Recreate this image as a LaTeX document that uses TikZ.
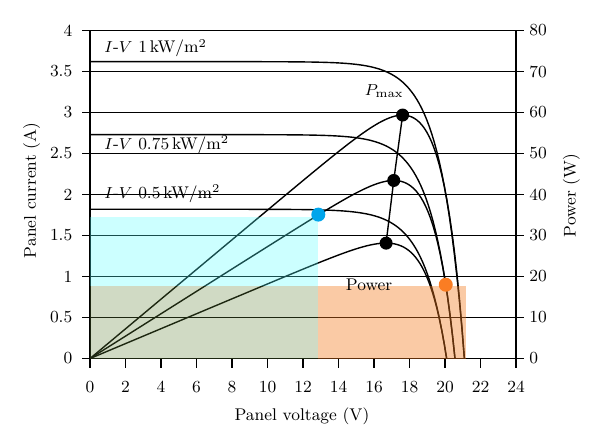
\documentclass[tikz,border=0pt]{standalone}
\usepackage{amsmath}
\usepackage{tikz}
\usetikzlibrary{arrows}
\definecolor{cyanbox}{RGB}{85,255,255}
\definecolor{olivebox}{RGB}{98,132,58}
\definecolor{orangebox}{RGB}{242,122,30}
\definecolor{bluedot}{RGB}{0,165,235}
\definecolor{orangedot}{RGB}{250,125,35}
\tikzstyle{gridline}=[line width=0.6bp]
\tikzstyle{curve}=[line width=0.7bp]
\tikzstyle{mppdot}=[circle,fill=black,minimum size=6.5bp,inner sep=0pt]
\tikzstyle{ticklabel}=[inner sep=0pt]
\tikzstyle{curvelabel}=[anchor=base west,inner sep=0pt]
\newcommand{\irr}[1]{$I$-$V$ #1\,kW/m$^2$}

\begin{document}
\begin{tikzpicture}[x=8.875bp,y=41bp,font=\fontsize{8.5}{10}\selectfont]
    \useasboundingbox (-5.07,-1.043) rectangle (28.73,4.372);
    % grid, ticks and both scales
    \foreach \n/\a/\w in {0/0/0, 1/0.5/10, 2/1/20, 3/1.5/30, 4/2/40, 5/2.5/50, 6/3/60, 7/3.5/70, 8/4/80} {
        \draw[gridline] (-0.45,\a) -- (24.45,\a);
        \node[ticklabel,anchor=east] (cur\n) at (-0.975,\a) {\a};
        \node[ticklabel,anchor=west] (pow\n) at (24.73,\a) {\w};
    }
    \foreach \v in {0,2,...,24} {
        \draw[gridline] (\v,0) -- (\v,-0.115);
        \node[ticklabel,anchor=base] (volt\v) at (\v,-0.42) {\v};
    }
    \draw[gridline] (0,-0.115) -- (0,4);
    \draw[gridline] (24,-0.115) -- (24,4);
    % I-V and power curves
    \foreach \isc/\voc in {3.62/21.09, 2.73/20.56, 1.82/20.09} {
        \draw[curve] plot[domain=0:\voc,samples=150] (\x,{\isc*(1-exp((\x-\voc)/1.3))});
        \draw[curve] plot[domain=0:\voc,samples=150] (\x,{\x*\isc*(1-exp((\x-\voc)/1.3))/20});
    }
    \coordinate (m1) at (17.61,2.969);
    \coordinate (m2) at (17.11,2.171);
    \coordinate (m3) at (16.68,1.407);
    \draw[curve] (m1) -- (m2) -- (m3);
    % shaded areas
    \fill[cyanbox,fill opacity=0.3] (0,0.89) rectangle (12.86,1.72);
    \fill[olivebox,fill opacity=0.3] (0,0) rectangle (12.86,0.89);
    \fill[orangebox,fill opacity=0.4] (12.86,0) rectangle (21.2,0.89);
    \foreach \m in {m1,m2,m3}
        \node[mppdot] (\m dot) at (\m) {};
    \node[mppdot,fill=bluedot,minimum size=7bp] (bluept) at (12.86,1.755) {};
    \node[mppdot,fill=orangedot,minimum size=7bp] (orangept) at (20.04,0.9) {};
    % labels
    \node[curvelabel] (iv1) at (0.79,3.73) {\irr{1}};
    \node[curvelabel] (iv2) at (0.79,2.55) {\irr{0.75}};
    \node[curvelabel] (iv3) at (0.79,1.95) {\irr{0.5}};
    \node[anchor=base,inner sep=0pt] (pmax) at (16.57,3.21) {$P_{\mathrm{max}}$};
    \node[anchor=base,inner sep=0pt] (powtxt) at (15.72,0.835) {Power};
    \node[anchor=base,inner sep=0pt] (xtitle) at (11.94,-0.75) {Panel voltage (V)};
    \node[anchor=base,inner sep=0pt,rotate=90] (ytitle) at (-3.05,2.05) {Panel current (A)};
    \node[anchor=base,inner sep=0pt,rotate=90] (ptitle) at (27.36,1.99) {Power (W)};
\end{tikzpicture}
\end{document}
